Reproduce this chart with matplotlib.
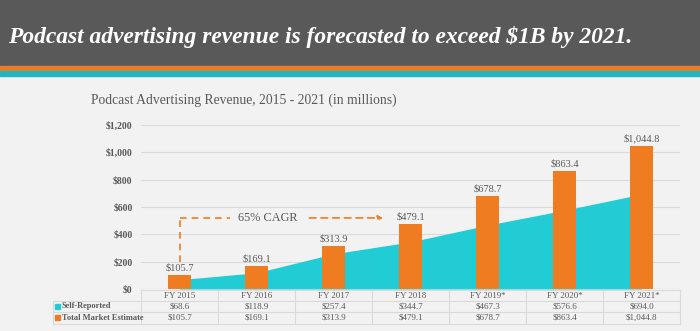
import numpy as np
import matplotlib.pyplot as plt
from matplotlib.patches import Rectangle
from matplotlib.transforms import blended_transform_factory

years = ["FY 2015", "FY 2016", "FY 2017", "FY 2018", "FY 2019*", "FY 2020*", "FY 2021*"]
self_reported = [68.6, 118.9, 257.4, 344.7, 467.3, 576.6, 694.0]
total_market = [105.7, 169.1, 313.9, 479.1, 678.7, 863.4, 1044.8]
yticks = [0, 200, 400, 600, 800, 1000, 1200]

orange = "#F07C22"
teal = "#22CCD4"
grey = "#595959"
bg = "#F2F2F2"
line_c = "#DADADA"
serif = ["Liberation Serif", "DejaVu Serif"]

W, H = 700, 331
fig = plt.figure(figsize=(7, 3.31), dpi=100, facecolor=bg)

def fy(px):
    # pixel row from top -> figure fraction
    return 1 - px / H

# header band and stripes
fig.patches.append(Rectangle((0, fy(66)), 1, 66 / H, transform=fig.transFigure, color=grey, zorder=0))
fig.patches.append(Rectangle((0, fy(70.5)), 1, 4.5 / H, transform=fig.transFigure, color="#EE7B24", zorder=0))
fig.patches.append(Rectangle((0, fy(76)), 1, 4.5 / H, transform=fig.transFigure, color="#1FB6C0", zorder=0))
fig.text(8 / W, fy(37), "Podcast advertising revenue is forecasted to exceed $1B by 2021.",
         color="white", fontsize=16.9, fontweight="bold", fontstyle="italic",
         family=serif, va="center", ha="left")

ax = fig.add_axes([141 / W, fy(289), 539 / W, 164 / H])
ax.set_facecolor(bg)
x = np.arange(len(years))
ax.fill_between(x, self_reported, color=teal, lw=0, zorder=2)
ax.bar(x, total_market, width=0.29, color=orange, zorder=3)
for i, v in enumerate(total_market):
    ax.text(i, v + 18, f"${v:,.1f}", ha="center", va="bottom", fontsize=7.5,
            color=grey, family=serif)

ax.set_xlim(-0.5, len(years) - 0.5)
ax.set_ylim(0, 1200)
ax.set_yticks(yticks)
ax.set_yticklabels([f"${t:,}" for t in yticks], fontsize=7, color=grey,
                   family=serif, fontweight="bold")
ax.set_xticks([])
ax.tick_params(axis="y", length=0, pad=6)
ax.grid(axis="y", color=line_c, lw=0.8, zorder=0)
for s in ax.spines.values():
    s.set_visible(False)
ax.axhline(0, color="#D0D0D0", lw=0.8, zorder=4)

# CAGR annotation
ax.plot([0, 0], [200, 520], ls=(0, (4, 3)), color=orange, lw=1.2, zorder=5)
ax.plot([0, 0.65], [520, 520], ls=(0, (4, 3)), color=orange, lw=1.2, zorder=5)
ax.annotate("", xy=(2.68, 520), xytext=(1.65, 520),
            arrowprops=dict(arrowstyle="-|>", color=orange, lw=1.2, ls=(0, (4, 3)),
                            mutation_scale=7))
ax.text(1.14, 520, "65% CAGR", ha="center", va="center", fontsize=8.8,
        color=grey, family=serif)

fig.text(91 / W, fy(100), "Podcast Advertising Revenue, 2015 - 2021 (in millions)",
         fontsize=9.8, color=grey, family=serif, va="center", ha="left")

# data table beneath the axis
tr = blended_transform_factory(ax.transData, fig.transFigure)
rows_px = [290, 301, 312, 323.5]
for yp in rows_px:
    x0 = 141 if yp == 290 else 53
    fig.add_artist(plt.Line2D([x0 / W, 680 / W], [fy(yp)] * 2, transform=fig.transFigure,
                              color=line_c, lw=0.8))
for k in range(len(years) + 1):
    fig.add_artist(plt.Line2D([k - 0.5] * 2, [fy(290), fy(323.5)], transform=tr,
                              color=line_c, lw=0.8))
fig.add_artist(plt.Line2D([53 / W] * 2, [fy(301), fy(323.5)], transform=fig.transFigure,
                          color=line_c, lw=0.8))

for i, y in enumerate(years):
    ax.text(i, fy(295.5), y, transform=tr, ha="center", va="center", fontsize=6.5,
            color=grey, family=serif)
    ax.text(i, fy(306.5), f"${self_reported[i]:,.1f}", transform=tr, ha="center",
            va="center", fontsize=6.5, color=grey, family=serif)
    ax.text(i, fy(317.5), f"${total_market[i]:,.1f}", transform=tr, ha="center",
            va="center", fontsize=6.5, color=grey, family=serif)

for yp, name, c in [(306.5, "Self-Reported", teal), (317.5, "Total Market Estimate", orange)]:
    fig.patches.append(Rectangle((55 / W, fy(yp + 2.5)), 5 / W, 5 / H,
                                 transform=fig.transFigure, color=c))
    fig.text(61.5 / W, fy(yp), name, fontsize=6.0, color=grey, family=serif,
             fontweight="bold", va="center", ha="left")

fig.savefig("out.png", dpi=100, facecolor=bg)
